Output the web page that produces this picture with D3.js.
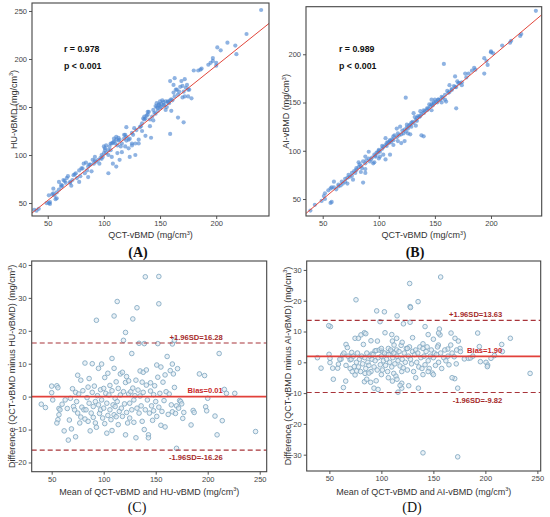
<!DOCTYPE html>
<html><head><meta charset="utf-8">
<script src="https://cdn.jsdelivr.net/npm/d3@7/dist/d3.min.js"></script>
<style>body{margin:0;background:#fff}svg{display:block}</style>
</head><body>
<svg id="c" width="550" height="517"></svg>
<script>
// ---------- DATA ----------
const scatterA = [[240,251],[227,226],[210,217],[217,214],[218,205],[201,212],[204,209],[197,201],[197,198],[195,196],[200,193],[200,196],[193,194],
[180,188],[184,188],[187,190],[186,189],[172,179],[169,177],[170,172],[175,168],[175,161],[178,159],[163,180],[159,177],[162,173],[168,171],[171,166],[166,163],[159,157],[158,154],[160,146],[153,152],[147,154],[150,149],[145,144],[137,138],[141,130],[137,120],[142,118],[159,122],[166,139],[171,134],[134,125],[131,116],[123,98],[128,100],[104,81],[120,129],[111,119],
[172,161],[174,173],[165,168],[163,161],[157,156],[155,147],[151,150],[149,153],[148,149],[152,157],[154,152],[156,150],[150,156],[148,146],[146,151],[144,147],[143,140],[140,145],[139,142],[138,141],[136,137],[134,133],[133,130],[132,129],[129,126],[127,128],[126,121],[125,123],[128,112],[131,112],[125,110],[122,116],[120,119],[119,121],[118,117],[116,112],[115,109],[114,116],[113,115],[112,110],[110,112],[109,114],[108,113],[107,112],[106,105],[105,109],[104,105],[102,110],[101,107],[100,109],[101,105],[100,102],[98,100],[97,97],[95,95],[93,93],[92,98],[91,91],[89,83],[88,90],[86,88],[85,84],[84,92],[82,91],[81,86],[80,86],[79,78],[78,84],[75,81],[74,80],[73,79],[72,74],[71,68],[70,72],[68,78],[67,76],[66,71],[64,74],[63,68],[62,67],[60,72],[60,64],[58,61],[58,55],[57,54],[56,58],[55,60],[55,65],[54,59],[52,51],[52,49],[51,58],[51,50],[49,50],[42,44],[40,42],[38,43],
[112,102],[114,95],[111,88],[108,91],[107,98],[116,103],[119,109],[122,107],[125,112],[99,98],[96,91],[98,96],[102,102],[104,100],[106,112],[109,117],[111,116],[113,118],[118,121],[120,115],[123,117],[90,95],[92,94],[87,90],[83,81],[86,77],[78,72],[76,76],[70,71],[65,73],[62,69],[135,138],[136,140],[139,145],[141,137],[144,136],[146,143],[147,150],[149,152],[151,153],[153,155],[155,156],[157,155],[160,158],[161,157],[162,165],[164,168],[167,166],[170,160],[176,168],[173,170]];

const scatterB = [[240,245],[227,221],[226,219],[218,214],[217,212],[210,209],[200,203],[202,201],[200,202],[194,196],[197,189],[194,180],[196,193],[186,184],[185,186],[183,183],[180,180],[177,180],[158,190],
[170,172],[168,177],[171,170],[174,168],[169,166],[165,163],[163,168],[162,160],[159,153],[160,151],[169,144],[156,156],[153,153],[150,153],[147,153],[149,149],[145,148],[143,144],[140,142],[137,141],[124,155],[138,116],[140,115],
[135,136],[132,135],[131,139],[134,131],[129,129],[126,123],[125,127],[128,117],[122,118],[119,125],[116,123],[120,108],[123,110],[113,115],[110,111],[107,108],[106,113],[103,105],[100,101],[98,98],[101,94],[110,96],[106,91],[97,94],[95,87],[91,99],[88,94],[86,89],[83,86],[80,82],[82,88],[79,77],[76,77],[77,70],[73,75],[70,68],[67,68],[64,65],[60,68],[86,67],[88,77],[92,89],
[57,61],[55,59],[52,56],[51,53],[52,50],[49,48],[57,46],[58,47],[43,44],[39,38],
[60,62],[62,60],[64,63],[66,64],[68,66],[70,71],[72,72],[74,73],[76,74],[78,79],[80,80],[82,83],[84,84],[85,82],[88,87],[89,90],[91,92],[93,91],[94,93],[96,96],[97,95],[99,98],[100,100],[101,99],[103,102],[104,104],[106,106],[107,105],[108,109],[109,108],[110,110],[111,109],[112,112],[113,111],[114,116],[116,114],[117,118],[118,116],[120,117],[121,121],[123,122],[124,120],[125,124],[127,126],[128,127],[129,125],[130,130],[131,129],[133,132],[134,134],[136,135],[137,136],[138,138],[140,139],[141,141],[143,142],[144,144],[146,146],[147,148],[148,147],[149,150],[151,151],[152,150],[153,153],[155,153],[156,150],[157,155],[159,158],[161,162],[163,161],[165,164],[167,167],[168,166],[172,170],[174,171],[178,176],
[104,96],[113,106],[117,110],[126,118],[133,126],[147,142],[100,92],[88,81],[84,78],[72,66],[58,62],[96,88]];

const blandC = [[40,-2.3],[44,-3.3],[50,3.2],[50,1.2],[51,-1],[55,3.3],[56,2.7],[57,-3.6],[58,-4],[56,-7],[55,-8],[57,-5.5],[60,-2.3],[62,-10.4],[63,-1],[65,-3.6],[66,-13.2],[67,-7.1],[68,-0.5],[69,-9.8],[70,2.4],[71,-3],[72,-4],[73,-12.2],[73,1.3],[74,-1.5],[75,6.5],[75,-5],[76,0.8],[77,-8],[78,5],[78,-6.2],[79,-3.2],[80,1.8],[81,-4],[82,10.2],[82,-6.8],[83,-4],[84,-0.3],[85,2.9],[85,-7.5],[86,5.5],[86,-2],[87,-10.4],[88,-5],[89,10],[89,1.3],[90,-3],[90,-6.3],[91,3.2],[92,-1.5],[92,-8],[93,23.2],[93,-9.3],[94,0.3],[95,-2.5],[95,8.6],[96,-5.1],[97,2.1],[97,-4],[98,9.9],[98,-1],[99,-6.5],[100,2.5],[100,-3.5],[101,5.8],[101,-8.2],[102,1],[103,-11.1],[103,-2],[104,7.1],[104,-5.7],[105,0.5],[106,-4],[106,3.4],[107,-7],[108,11.6],[108,-10.3],[108,1.8],[109,-2.5],[110,24.5],[110,-5.5],[110,8.6],[111,-0.5],[111,-3],[112,4.5],[112,-6.1],[113,-1.5],[113,28.9],[114,2.5],[114,-8.5],[115,-4.5],[116,6.9],[116,0.5],[117,-3.5],[118,7.4],[118,-6],[119,17.1],[119,1.5],[120,-2.2],[121,19.5],[121,-11.6],[121,4.3],[122,6.1],[122,-4.8],[123,-8],[124,0.8],[124,4.8],[125,-2],[125,-6.5],[126,1.5],[127,13.1],[127,-4],[128,23.6],[128,2.6],[129,-1],[129,-7.8],[130,0.3],[131,-12.5],[131,5],[132,27],[132,-3.5],[133,2],[134,16.2],[134,-5],[135,7.8],[135,0.2],[136,-2.8],[137,4.4],[137,-7.5],[138,7.4],[138,1.3],[139,-10],[139,16.1],[140,36.4],[140,-4],[141,8.1],[141,3.5],[142,-1],[143,-11.6],[143,-12.5],[144,-5],[145,1.7],[145,4.2],[146,-2.8],[147,-7.2],[148,0.6],[148,-4.3],[149,3.3],[150,-1.5],[151,9.6],[151,-6],[152,5.9],[152,16.1],[153,36.5],[153,28.2],[153,-3.2],[154,1],[155,9],[155,-8.7],[156,-4.5],[157,4.4],[158,-1.2],[159,6.6],[159,-9.2],[160,1.5],[161,12.2],[162,-5.4],[163,0.8],[164,7.9],[165,-2.5],[166,9.9],[166,16],[166,-4.6],[167,6.9],[168,17.1],[168,2.8],[169,-5.1],[170,-2.8],[170,-15.7],[171,8.5],[172,-3.5],[173,-1.2],[174,-1.5],[175,-2.2],[176,-6.6],[177,-4.8],[184,-8.6],[186,-4.2],[187,-4.8],[192,6.9],[197,6.4],[198,-3.1],[199,-4.3],[200,-0.5],[207,-5.9],[209,-11.6],[211,13.1],[214,-7.3],[216,2.2],[218,1],[226,1],[246,-10.6]];

const blandD = [[38.5,1.5],[42,-1.9],[51,11.6],[49.4,11.9],[49.7,2.6],[50.6,1.3],[50.6,-0.1],[53.2,-1.9],[53.8,-5.5],[58,-1.9],[58.7,-0.6],[63.5,-8.2],[65.7,-6.1],[66,5.8],[67.3,4.8],[62.8,2.4],[61.2,1],[75.6,20.3],[74.7,7.8],[77.9,7.8],[71.5,3.2],[69.9,0.8],[74,-1.4],[74.7,-4.1],[76.3,-2.8],[80.4,8.9],[83.7,9.6],[85,9.3],[82.7,5.8],[84.3,-3.6],[83.7,-6.3],[85.9,-5.5],[89.7,-6.5],[92.9,-8.4],[96.8,-8.8],[95.5,16.7],[98.7,13.2],[102.9,16.4],[103.5,9.6],[96.2,6.9],[90.7,2.7],[93.9,3.7],[100.3,3.7],[106.7,4.5],[105.1,2.6],[109.9,3.5],[114.7,4],[110.6,6.9],[112.2,5.6],[114.7,7.8],[115.1,15.1],[116,-9.7],[111.9,-3.6],[106.7,-5],[110.6,-6.1],[119.6,-6.8],[119.6,-8.4],[121.2,12.5],[119.6,-3],[127.2,25.6],[127.6,18.1],[128,17.8],[127.6,13],[126.3,-7.6],[135.6,-8.4],[135.3,19.7],[142,11.6],[140,-29.4],[157,27.7],[155.8,10.8],[156.4,8.9],[154.8,5.6],[163.8,4.3],[166.7,5.6],[167,9.5],[173.4,-30.7],[173.4,-8.4],[170.5,-5.3],[168,-5],[170.8,7.8],[174,6.9],[175.6,4.5],[172.4,4],[179.8,1.1],[183.7,1.3],[185.6,1.4],[192.6,9.5],[194.2,5.1],[195.2,0.2],[200.6,0],[202.2,-0.9],[201.9,-1.4],[205.4,1.3],[208.7,2.2],[215.7,5.8],[216.3,3.5],[224,7.8],[243,-3.6],
[60,1],[64,3],[66,-1],[68,2],[70,-2],[71,1],[72,-3],[73,2],[76,0],[77,3],[78,-1.5],[79,1],[80,-3],[81,2],[82,-0.5],[84,1.5],[85,-2],[86,3],[87,0],[88,-1],[89,2],[90,-3],[91,1],[92,2.5],[93,-1.5],[94,0.5],[95,3.8],[96,-2.5],[97,1.5],[98,4],[99,-0.8],[100,2],[101,-2.5],[102,0.5],[103,3],[104,-1],[105,1],[106,-3],[107,2.5],[108,0],[109,4],[110,-1.5],[111,1.5],[112,3],[113,-0.5],[114,-4.5],[115,2],[116,0.5],[117,3.5],[118,-1.2],[119,5.5],[120,1],[121,-1.8],[122,3],[123,0],[124,4.5],[125,-2.5],[126,2],[127,5],[128,1],[129,-0.5],[130,3.5],[131,-3],[132,2.5],[133,4],[134,0],[135,3],[136,-1.5],[137,5],[138,1.5],[139,-2],[140,4.5],[141,2],[142,-0.8],[143,3.5],[144,5],[145,0.5],[146,-2],[147,2],[148,4],[149,-3.5],[150,1.5],[151,3],[152,-1],[153,2.5],[154,5],[155,0],[157,3],[158,-2],[160,1.5],[161,4],[162,0.5],[164,2],[165,-0.8],[168,3],[170,1.8],[172,-0.5],[176,3.5],[188,2],[90,7],[100,4.5],[110,9],[120,6.5],[125,4.5],[130,8],[140,6],[145,9],[150,7.5],[155,9.5],[115,-5.5],[118,-7.5],[100,-4],[95,-6],[88,-3.5],[140,-4],[145,-3],[150,-4],[133,-5]];

const fitA = [[36,39.6],[247,237]];
const fitB = [[35.2,35.2],[245,240.7]];
const limitsC = {upper:16.28, bias:0.01, lower:-16.26};
const limitsD = {upper:13.63, bias:1.90, lower:-9.82};
const ticksXAB = [50,100,150,200];
const ticksYA = [50,100,150,200,250];
const ticksYB = [50,100,150,200];
const ticksXCD = [50,100,150,200,250];
const ticksYC = [-20,-10,0,10,20,30,40];
const ticksYD = [-30,-20,-10,0,10,20,30];

// ---------- DRAW ----------
const svg = d3.select("#c");
const SANS = "'Liberation Sans', Arial, sans-serif";
const SERIF = "'Liberation Serif', 'Times New Roman', serif";

function unitTitle(sel, pre){
  sel.append("tspan").text(pre + " (mg/cm");
  sel.append("tspan").attr("font-size","5.5px").attr("dy","-3.2").text("3");
  sel.append("tspan").attr("dy","3.2").text(")");
}

function panel(cfg){
  const x = d3.scaleLinear().domain(cfg.xd).range([cfg.box[0], cfg.box[2]]);
  const y = d3.scaleLinear().domain(cfg.yd).range([cfg.box[3], cfg.box[1]]);
  const g = svg.append("g");
  const clipId = "clip" + cfg.id;
  svg.append("clipPath").attr("id", clipId).append("rect")
    .attr("x", cfg.box[0]).attr("y", cfg.box[1])
    .attr("width", cfg.box[2]-cfg.box[0]).attr("height", cfg.box[3]-cfg.box[1]);

  const ax = g.append("g").attr("transform", `translate(0,${cfg.box[3]})`)
    .call(d3.axisBottom(x).tickValues(cfg.xt).tickSize(3).tickPadding(2));
  const ay = g.append("g").attr("transform", `translate(${cfg.box[0]},0)`)
    .call(d3.axisLeft(y).tickValues(cfg.yt).tickSize(3).tickPadding(2));
  [ax, ay].forEach(a => {
    a.select(".domain").remove();
    a.selectAll("line").attr("stroke","#555");
    a.selectAll("text").attr("font-family", SANS).attr("font-size","7.5px").attr("fill","#444");
  });

  const inner = g.append("g").attr("clip-path", `url(#${clipId})`);
  cfg.draw(inner, x, y);

  g.append("rect").attr("x", cfg.box[0]).attr("y", cfg.box[1])
    .attr("width", cfg.box[2]-cfg.box[0]).attr("height", cfg.box[3]-cfg.box[1])
    .attr("fill","none").attr("stroke","#444").attr("stroke-width",1.1);

  const xt = g.append("text").attr("x", (cfg.box[0]+cfg.box[2])/2).attr("y", cfg.xty)
    .attr("text-anchor","middle").attr("font-family", SANS).attr("font-size","9px").attr("fill","#333");
  unitTitle(xt, cfg.xlab);
  const cy = (cfg.box[1]+cfg.box[3])/2;
  const yt = g.append("text").attr("transform", `translate(${cfg.ytx},${cy}) rotate(-90)`)
    .attr("text-anchor","middle").attr("font-family", SANS).attr("font-size","9px").attr("fill","#333");
  unitTitle(yt, cfg.ylab);

  g.append("text").attr("x", cfg.lab[0]).attr("y", cfg.lab[1]).attr("text-anchor","middle")
    .attr("font-family", SERIF).attr("font-size","14px").attr("font-weight", cfg.labBold ? "bold" : "normal")
    .attr("fill","#111").text(cfg.label);
  return {x, y, g};
}

function scatterDraw(data, fit){
  return (g, x, y) => {
    g.selectAll("circle").data(data).join("circle")
      .attr("cx", d => x(d[0])).attr("cy", d => y(d[1])).attr("r", 2.1)
      .attr("fill","#4a84d0").attr("fill-opacity",0.62);
    g.append("line").attr("x1", x(fit[0][0])).attr("y1", y(fit[0][1]))
      .attr("x2", x(fit[1][0])).attr("y2", y(fit[1][1]))
      .attr("stroke","#e2463b").attr("stroke-width",1);
  };
}

function blandDraw(data, lim){
  return (g, x, y) => {
    g.selectAll("circle").data(data).join("circle")
      .attr("cx", d => x(d[0])).attr("cy", d => y(d[1])).attr("r", 2.3)
      .attr("fill","#dce8f0").attr("fill-opacity",0.6)
      .attr("stroke","#86abc4").attr("stroke-width",0.9);
    const [x0,x1] = x.domain();
    [lim.upper, lim.lower].forEach(v => {
      g.append("line").attr("x1", x(x0)).attr("x2", x(x1)).attr("y1", y(v)).attr("y2", y(v))
        .attr("stroke","#a8343a").attr("stroke-width",1.1).attr("stroke-dasharray","5,3");
    });
    g.append("line").attr("x1", x(x0)).attr("x2", x(x1)).attr("y1", y(lim.bias)).attr("y2", y(lim.bias))
      .attr("stroke","#e2403a").attr("stroke-width",1.8);
  };
}

function blandLabels(p, lim, xr){
  const lbl = [
    ["+1.96SD=" + lim.upper.toFixed(2), lim.upper, -3.5, "#a52a2a"],
    ["Bias=" + lim.bias.toFixed(2), lim.bias, -3.5, "#c8282a"],
    ["-1.96SD=" + lim.lower.toFixed(2), lim.lower, 10, "#a52a2a"]
  ];
  lbl.forEach(([t, v, dy, c]) => {
    p.g.append("text").attr("x", p.x(xr)).attr("y", p.y(v) + dy).attr("text-anchor","end")
      .attr("font-family", SANS).attr("font-size","7.6px").attr("font-weight","bold").attr("fill", c).text(t);
  });
}

function statText(p, xv, r){
  p.g.append("text").attr("x", xv).attr("y", 52).attr("font-family", SANS).attr("font-size","8.8px")
    .attr("font-weight","bold").attr("fill","#111").text("r = " + r);
  p.g.append("text").attr("x", xv).attr("y", 68.5).attr("font-family", SANS).attr("font-size","8.8px")
    .attr("font-weight","bold").attr("fill","#111").text("p < 0.001");
}

const pA = panel({id:"A", box:[32,3,269,216], xd:[36,247], yd:[36.5,258.3], xt:ticksXAB, yt:ticksYA,
  draw: scatterDraw(scatterA, fitA), xlab:"QCT-vBMD", ylab:"HU-vBMD", xty:238, ytx:16.5, lab:[138,257], label:"(A)", labBold:true});
statText(pA, 64, "0.978");

const pB = panel({id:"B", box:[306,6.7,541.7,216], xd:[35.1,245.2], yd:[32.4,249.3], xt:ticksXAB, yt:ticksYB,
  draw: scatterDraw(scatterB, fitB), xlab:"QCT-vBMD", ylab:"AI-vBMD", xty:238, ytx:289, lab:[415,257], label:"(B)", labBold:true});
statText(pB, 339, "0.989");

const pC = panel({id:"C", box:[31.7,261,266.7,471.7], xd:[30.8,256.7], yd:[-22.8,41.2], xt:ticksXCD, yt:ticksYC,
  draw: blandDraw(blandC, limitsC), xlab:"Mean of QCT-vBMD and HU-vBMD", ylab:"Difference (QCT-vBMD minus HU-vBMD)",
  xty:494.5, ytx:15, lab:[137,512], label:"(C)", labBold:false});
blandLabels(pC, limitsC, 214.5);

const pD = panel({id:"D", box:[306.7,261,540.7,471], xd:[28.2,253.2], yd:[-35.3,32.9], xt:ticksXCD, yt:ticksYD,
  draw: blandDraw(blandD, limitsD), xlab:"Mean of QCT-vBMD and AI-vBMD", ylab:"Difference (QCT-vBMD minus AI-vBMD)",
  xty:494.5, ytx:290.5, lab:[412,512], label:"(D)", labBold:false});
blandLabels(pD, limitsD, 216.3);
</script>
</body></html>
